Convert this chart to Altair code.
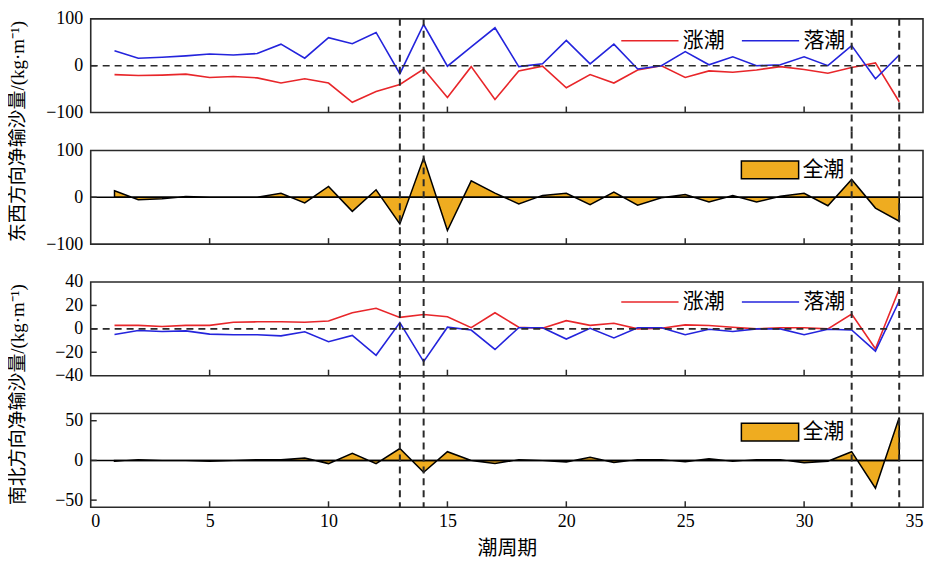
import altair as alt
import pandas as pd

cycles = list(range(1, 35))
ew_flood = [-19, -21, -20, -18, -25, -23, -26, -37, -28, -37, -78, -55, -40, -7, -68, -2, -72,
            -11, -1, -47, -19, -37, -9, 0, -25, -11, -14, -9, -2, -8, -16, -4, 6, -77]
ew_ebb = [32, 16, 18, 21, 25, 23, 26, 46, 16, 60, 47, 71, -17, 88, -1, 40, 81,
          -2, 4, 54, 4, 46, -7, 0, 30, 2, 19, 0, 2, 19, 0, 43, -28, 23]
ew_total = [14, -5, -3, 1.5, 0, 0, 0, 8.5, -12, 23, -30, 16, -57, 84, -71, 35, 9,
            -14, 4, 8.5, -16, 11, -17, -1, 6, -10, 4, -10, 2, 8.5, -18, 38, -23, -51]
ns_flood = [3, 3, 2, 3, 3, 5.6, 6, 6, 5.6, 6.7, 13.7, 17.6, 9.8, 12.3, 10.3, 1, 13.7,
            1.4, 0.5, 7, 3, 4.8, 0, 0.5, 3.4, 2.8, 1.4, 0, 1, 1, 0, 12.6, -17, 34]
ns_ebb = [-4.8, -1.4, -2.2, -1.7, -4.5, -5, -5, -6, -2.5, -11, -5.6, -22.6, 5.3, -28, 1.4, -1, -17.6,
          1, 1, -8.7, 0.5, -7.8, 1, 1, -5, -0.3, -2.2, 0, 0, -5, -0.3, -1, -19, 23.8]
ns_total = [-1, 1, 0, 0, -1, 0, 1, 1, 3, -4, 9, -4, 15, -15, 11, 0, -4,
            1, 0, -2, 4, -2.5, 1, 1, -1.6, 2, -1, 1, 1, -3, -1, 11, -35, 54]
marker_cycles = [13, 14, 32, 34]
x_ticks = [0, 5, 10, 15, 20, 25, 30, 35]

FONT = "Liberation Serif, Noto Sans CJK SC"
RED = "#e8262a"
BLUE = "#2424dc"
GOLD = "#efac20"
DARK = "#2a2a2a"
W, H = 835, 94
GAP = 38
TL = 6  # inward tick length

XSCALE = alt.Scale(domain=[0, 35], nice=False, zero=False)


def x_enc(bottom):
    if bottom:
        ax = alt.Axis(values=x_ticks, ticks=False, domain=False, grid=False, title="潮周期",
                      labelPadding=5, labelFontSize=18, titleFontSize=20, titlePadding=8,
                      labelColor="black", titleColor="black",
                      titleFontWeight="normal", labelOverlap=False)
    else:
        ax = alt.Axis(values=x_ticks, ticks=False, domain=False, grid=False, title=None,
                      labels=False)
    return alt.X("x:Q", scale=XSCALE, axis=ax)


def y_scale(domain):
    return alt.Scale(domain=domain, nice=False, zero=False)


def y_enc(domain, ticks):
    return alt.Y("v:Q", scale=y_scale(domain),
                 axis=alt.Axis(values=ticks, ticks=False, domain=False, grid=False, title=None,
                               labelPadding=8, labelFontSize=18,
                               labelColor="black", labelOverlap=False))


def tick_layers(domain, ticks, idx):
    xt = alt.Chart(pd.DataFrame({"x": x_ticks[1:-1]})).mark_rule(color=DARK, strokeWidth=1.5).encode(
        x=x_enc(idx == 3), y=alt.value(H), y2=alt.value(H - TL))
    inner = [t for t in ticks if domain[0] < t < domain[1]]
    yt = alt.Chart(pd.DataFrame({"v": inner})).mark_rule(color=DARK, strokeWidth=1.5).encode(
        y=y_enc(domain, ticks), x=alt.value(0), x2=alt.value(TL))
    return [xt, yt]


def vlines(idx):
    top = 0 if idx == 0 else -GAP / 2
    bot = H if idx == 3 else H + GAP / 2
    return alt.Chart(pd.DataFrame({"x": marker_cycles})).mark_rule(
        color=DARK, strokeDash=[7, 5], strokeWidth=2).encode(
        x=x_enc(idx == 3), y=alt.value(top), y2=alt.value(bot))


def line_panel(flood, ebb, domain, ticks, idx, legend_y, title=None):
    df = pd.DataFrame({
        "x": cycles * 2,
        "v": flood + ebb,
        "s": ["涨潮"] * len(cycles) + ["落潮"] * len(cycles),
    })
    lines = alt.Chart(df).mark_line(strokeWidth=1.6, clip=True).encode(
        x=x_enc(idx == 3),
        y=y_enc(domain, ticks),
        color=alt.Color("s:N", scale=alt.Scale(domain=["涨潮", "落潮"], range=[RED, BLUE]),
                        legend=alt.Legend(orient="none", legendX=531, legendY=legend_y,
                                          direction="horizontal",
                                          title=None, symbolType="stroke", symbolSize=3300,
                                          symbolStrokeWidth=1.6, labelFontSize=21, labelOffset=3,
                                          columnPadding=14, labelColor="black", labelFont=FONT)),
        detail="s:N",
    )
    zero = alt.Chart(pd.DataFrame({"v": [0]})).mark_rule(
        color=DARK, strokeDash=[7, 5], strokeWidth=1.6).encode(y=y_enc(domain, ticks))
    layers = [lines, zero] + tick_layers(domain, ticks, idx) + [vlines(idx)]
    if title:
        layers.append(title_mark(title))
    return alt.layer(*layers).properties(width=W, height=H)


def area_panel(total, domain, ticks, idx, legend_y, title=None):
    df = pd.DataFrame({"x": cycles, "v": total, "s": ["全潮"] * len(cycles)})
    area = alt.Chart(df).mark_area(stroke="black", strokeWidth=1.5, opacity=1, clip=True).encode(
        x=x_enc(idx == 3),
        y=y_enc(domain, ticks),
        y2=alt.datum(0),
        fill=alt.Fill("s:N", scale=alt.Scale(domain=["全潮"], range=[GOLD]),
                      legend=alt.Legend(orient="none", legendX=652, legendY=legend_y, title=None,
                                        symbolType="M-1,-0.31L1,-0.31L1,0.31L-1,0.31Z",
                                        symbolSize=3300, symbolStrokeColor="black",
                                        symbolStrokeWidth=1.5, symbolOpacity=1,
                                        labelFontSize=21, labelOffset=3, labelColor="black",
                                        labelFont=FONT)),
    )
    zero = alt.Chart(pd.DataFrame({"v": [0]})).mark_rule(color="black", strokeWidth=1.5).encode(
        y=y_enc(domain, ticks))
    layers = [area, zero] + tick_layers(domain, ticks, idx) + [vlines(idx)]
    if title:
        layers.append(title_mark(title))
    return alt.layer(*layers).properties(width=W, height=H)


def title_mark(text):
    return alt.Chart(pd.DataFrame({"t": [text]})).mark_text(
        angle=270, fontSize=19, font=FONT, color="black", baseline="middle", align="center").encode(
        text="t:N", x=alt.value(-73), y=alt.value(H + GAP / 2))


p1 = line_panel(ew_flood, ew_ebb, [-100, 100], [-100, 0, 100], 0, -8, "东西方向净输沙量/(kg·m⁻¹)")
p2 = area_panel(ew_total, [-100, 100], [-100, 0, 100], 1, -10)
p3 = line_panel(ns_flood, ns_ebb, [-40, 40], [-40, -20, 0, 20, 40], 2, -10, "南北方向净输沙量/(kg·m⁻¹)")
p4 = area_panel(ns_total, [-59, 59], [-50, 0, 50], 3, -11)

chart = alt.vconcat(p1, p2, p3, p4, spacing=GAP, bounds="flush").resolve_scale(
    color="independent", fill="independent", y="independent"
).resolve_legend(color="independent", fill="independent").configure(
    font=FONT, padding=0
).configure_view(stroke=DARK, strokeWidth=1.6).configure_axis(
    labelFont=FONT, titleFont=FONT
).configure_legend(labelFont=FONT)

chart.save("out.html", embed_options={"renderer": "svg", "actions": False})
